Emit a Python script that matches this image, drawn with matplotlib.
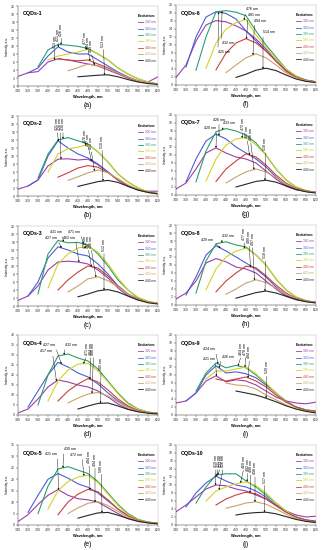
import numpy as np
import matplotlib
matplotlib.use("Agg")
import matplotlib.pyplot as plt

plt.rcParams['font.family'] = ['Liberation Sans', 'DejaVu Sans']

# ---------------- data ----------------
excitation = ["320 nm", "340 nm", "360 nm", "380 nm", "400 nm", "420 nm", "440 nm"]
start_wl = [340, 360, 380, 400, 420, 440, 460]      # first emission wavelength of each curve
step_wl = 20
colors = ["#9B3FA8", "#4C5FD5", "#2E9E6B", "#D2D22A", "#C8413A", "#C9A36A", "#262626"]

titles = ["CQDs-1", "CQDs-2", "CQDs-3", "CQDs-4", "CQDs-5",
          "CQDs-6", "CQDs-7", "CQDs-8", "CQDs-9", "CQDs-10"]
letters = ["(a)", "(b)", "(c)", "(d)", "(e)", "(f)", "(g)", "(h)", "(i)", "(j)"]
y_max = [20, 20, 20, 40, 35, 20, 20, 20, 20, 20]
y_step = [2, 2, 2, 5, 5, 2, 2, 2, 2, 2]

cqd1 = [[2.4, 3.3, 3.6, 6.0, 6.8, 6.5, 6.0, 5.5, 5.0, 4.0, 3.0, 2.0, 1.2, 1.0, 2.3],
        [3.3, 4.5, 7.5, 9.8, 8.5, 8.0, 8.0, 6.5, 5.0, 3.5, 2.3, 1.3, 0.8, 0.5],
        [4.8, 9.0, 10.4, 10.2, 9.9, 9.4, 8.0, 6.5, 4.5, 3.0, 1.8, 1.0, 0.5],
        [6.5, 7.5, 8.0, 8.5, 9.2, 8.0, 6.5, 4.5, 3.0, 1.8, 1.0, 0.5],
        [6.8, 6.5, 6.3, 6.5, 5.5, 4.5, 3.2, 2.0, 1.2, 0.8, 0.5],
        [3.8, 4.6, 5.5, 5.1, 4.2, 3.2, 2.2, 1.3, 0.8, 0.5],
        [2.3, 2.5, 2.7, 2.8, 2.3, 1.6, 1.0, 0.6, 0.4]]
cqd2 = [[1.7, 2.5, 4.0, 7.5, 9.2, 9.3, 9.0, 9.2, 7.8, 6.0, 4.0, 2.5, 1.6, 1.2, 1.2],
        [2.5, 4.0, 10.0, 13.8, 12.0, 10.5, 9.5, 8.0, 6.0, 4.0, 2.5, 1.5, 1.0, 0.6],
        [4.5, 10.5, 14.0, 14.6, 13.8, 13.0, 11.0, 8.5, 5.5, 3.5, 2.0, 1.0, 0.6],
        [6.0, 10.5, 11.8, 12.2, 12.9, 11.0, 8.5, 5.5, 3.5, 2.0, 1.0, 0.6],
        [4.7, 5.8, 7.0, 7.6, 7.2, 5.8, 4.0, 2.5, 1.5, 0.9, 0.6],
        [3.9, 4.8, 5.8, 6.5, 5.8, 4.3, 2.8, 1.6, 0.9, 0.6],
        [2.4, 3.0, 3.6, 3.9, 3.4, 2.4, 1.5, 0.9, 0.5]]
cqd3 = [[1.4, 2.5, 5.0, 9.0, 11.0, 11.2, 11.0, 10.5, 9.0, 7.0, 4.5, 2.5, 1.5, 1.0, 0.7],
        [2.5, 6.0, 12.0, 14.8, 14.0, 13.0, 12.5, 10.5, 8.0, 5.0, 3.0, 1.7, 1.0, 0.6],
        [3.0, 13.0, 16.4, 15.8, 15.9, 15.2, 13.0, 10.0, 6.5, 4.0, 2.0, 1.1, 0.7],
        [4.5, 10.5, 13.0, 14.5, 15.0, 13.5, 10.5, 7.0, 4.0, 2.2, 1.2, 0.7],
        [4.0, 6.5, 8.5, 10.0, 9.5, 7.5, 5.0, 3.0, 1.7, 1.0, 0.6],
        [3.5, 5.0, 6.8, 7.3, 6.3, 4.8, 3.0, 1.7, 1.0, 0.6],
        [2.3, 3.0, 3.8, 4.1, 3.5, 2.5, 1.5, 0.8, 0.5]]
cqd4 = [[1.0, 3.0, 8.0, 14.0, 17.5, 16.5, 15.0, 14.0, 12.0, 9.0, 5.5, 3.0, 1.7, 1.1, 0.8],
        [4.0, 12.0, 20.0, 26.3, 24.0, 21.0, 19.0, 15.5, 11.0, 7.0, 4.0, 2.0, 1.2, 0.8],
        [5.0, 20.0, 29.5, 30.5, 28.5, 27.0, 23.0, 17.0, 11.0, 6.0, 3.0, 1.5, 0.9],
        [7.0, 17.0, 22.5, 25.5, 25.8, 22.0, 16.5, 10.5, 5.5, 2.8, 1.4, 0.8],
        [7.0, 12.0, 15.5, 18.2, 16.5, 12.5, 8.0, 4.5, 2.3, 1.2, 0.7],
        [6.0, 8.5, 10.5, 11.3, 9.5, 6.5, 3.8, 2.0, 1.1, 0.6],
        [3.0, 4.5, 5.8, 6.0, 4.5, 2.8, 1.6, 0.9, 0.5]]
cqd5 = [[1.5, 4.5, 9.0, 13.0, 15.5, 13.0, 11.5, 11.0, 10.0, 7.5, 5.0, 2.8, 1.6, 1.0, 0.7],
        [5.5, 13.0, 20.0, 22.5, 20.5, 18.0, 16.5, 14.0, 10.5, 7.0, 4.0, 2.0, 1.2, 0.8],
        [5.0, 17.0, 24.5, 25.5, 24.0, 22.5, 19.0, 14.0, 9.0, 5.0, 2.5, 1.3, 0.8],
        [7.0, 15.0, 19.0, 21.0, 21.8, 18.5, 13.5, 8.5, 4.5, 2.3, 1.2, 0.7],
        [4.5, 10.0, 13.5, 15.6, 14.5, 11.0, 7.0, 4.0, 2.0, 1.1, 0.6],
        [5.0, 7.5, 9.5, 10.2, 8.5, 6.0, 3.5, 1.8, 1.0, 0.6],
        [3.0, 4.2, 5.3, 5.5, 4.3, 2.8, 1.6, 0.9, 0.5]]
cqd6 = [[1.9, 5.0, 11.0, 15.0, 16.1, 15.8, 14.8, 13.5, 11.5, 9.0, 6.0, 3.5, 2.0, 1.0, 0.7],
        [4.5, 12.0, 17.0, 18.3, 17.9, 16.5, 13.5, 11.0, 8.5, 6.0, 3.8, 2.2, 1.2, 0.8],
        [3.7, 12.0, 18.3, 18.6, 18.2, 17.3, 13.5, 10.0, 7.0, 4.0, 2.2, 1.2, 0.8],
        [4.2, 10.5, 14.0, 15.6, 16.4, 12.5, 9.5, 6.5, 4.0, 2.2, 1.2, 0.8],
        [3.8, 8.0, 10.5, 11.6, 10.5, 8.5, 6.0, 3.5, 2.0, 1.2, 0.8],
        [3.1, 5.0, 6.8, 7.8, 6.8, 5.0, 3.0, 1.8, 1.1, 0.7],
        [1.9, 2.7, 3.7, 4.2, 3.6, 2.5, 1.5, 0.9, 0.6]]
cqd7 = [[1.5, 3.0, 6.5, 10.5, 11.8, 10.5, 9.5, 9.0, 8.0, 6.0, 4.0, 2.2, 1.3, 0.9, 0.7],
        [3.3, 9.0, 13.5, 15.2, 14.0, 12.0, 10.5, 9.0, 7.0, 4.5, 2.5, 1.5, 0.9, 0.6],
        [3.3, 11.0, 15.8, 16.6, 16.0, 15.0, 13.0, 10.0, 6.5, 3.8, 2.0, 1.1, 0.7],
        [3.5, 9.0, 12.5, 14.0, 14.4, 12.5, 10.0, 6.5, 3.8, 2.0, 1.0, 0.6],
        [3.4, 6.5, 8.5, 10.3, 9.5, 7.5, 5.0, 3.0, 1.7, 1.0, 0.6],
        [3.0, 4.5, 5.8, 6.5, 5.8, 4.3, 2.7, 1.6, 0.9, 0.6],
        [2.0, 2.7, 3.4, 3.7, 3.2, 2.3, 1.4, 0.8, 0.5]]
cqd8 = [[1.5, 3.0, 6.0, 10.5, 11.6, 10.8, 9.5, 9.0, 8.0, 6.0, 4.0, 2.2, 1.3, 0.9, 0.7],
        [2.5, 7.0, 12.5, 14.8, 13.5, 12.0, 10.5, 9.0, 7.0, 4.5, 2.5, 1.4, 0.9, 0.6],
        [3.0, 11.0, 15.3, 15.8, 15.0, 14.5, 12.5, 10.0, 6.5, 3.8, 2.0, 1.1, 0.7],
        [3.8, 9.0, 12.0, 13.5, 14.2, 12.5, 10.0, 6.5, 3.8, 2.0, 1.0, 0.6],
        [3.3, 6.0, 8.0, 9.7, 9.3, 7.3, 5.0, 3.0, 1.7, 1.0, 0.6],
        [2.7, 4.0, 5.5, 6.3, 5.6, 4.2, 2.7, 1.6, 0.9, 0.6],
        [1.7, 2.4, 3.1, 3.5, 3.0, 2.2, 1.4, 0.8, 0.5]]
cqd9 = [[3.0, 3.5, 5.5, 8.5, 9.8, 8.3, 8.8, 8.5, 7.5, 6.0, 4.5, 3.5, 3.0, 2.8, 3.2],
        [3.5, 5.5, 10.0, 12.3, 10.5, 10.8, 10.3, 9.3, 7.5, 5.5, 3.5, 2.0, 1.3, 1.0],
        [6.0, 10.5, 13.0, 11.8, 12.4, 11.8, 10.0, 7.8, 5.5, 3.3, 2.0, 1.2, 0.8],
        [9.0, 11.0, 11.0, 11.5, 12.0, 10.3, 8.0, 5.5, 3.3, 2.0, 1.2, 0.8],
        [9.0, 8.5, 9.0, 9.5, 8.5, 7.0, 5.0, 3.2, 2.0, 1.2, 0.8],
        [8.0, 7.5, 7.3, 6.5, 5.0, 3.8, 2.5, 1.5, 1.0, 0.6],
        [6.0, 5.5, 5.0, 4.2, 3.3, 2.3, 1.5, 0.9, 0.5]]
cqd10 = [[3.3, 5.0, 7.0, 9.0, 10.0, 9.8, 9.0, 8.5, 7.5, 6.5, 5.0, 3.5, 2.5, 2.0, 2.2],
         [4.5, 8.0, 10.5, 12.2, 11.0, 10.0, 9.5, 8.5, 7.0, 5.0, 3.3, 2.0, 1.3, 1.0],
         [5.5, 9.5, 12.5, 12.8, 12.8, 11.0, 9.5, 7.5, 5.5, 3.5, 2.0, 1.2, 0.8],
         [6.0, 8.5, 9.5, 10.3, 10.8, 9.8, 8.0, 5.5, 3.5, 2.0, 1.1, 0.7],
         [5.0, 6.5, 7.5, 8.2, 7.8, 6.5, 4.8, 3.2, 2.0, 1.2, 0.8],
         [4.2, 4.8, 5.5, 5.8, 5.2, 4.0, 2.7, 1.6, 1.0, 0.6],
         [2.5, 2.9, 3.1, 3.2, 2.8, 2.1, 1.4, 0.9, 0.6]]
panels = [cqd1, cqd2, cqd3, cqd4, cqd5, cqd6, cqd7, cqd8, cqd9, cqd10]

# peak labels: (peak wavelength, curve index)
peaks1 = [(413, 0), (421, 1), (426, 2), (477, 3), (484, 4), (493, 5), (513, 6)]
peaks2 = [(421, 1), (426, 0), (430, 2), (476, 3), (487, 0), (493, 5), (510, 6)]
peaks3 = [(427, 1), (431, 2), (462, 0), (471, 2), (476, 3), (487, 4), (496, 5), (512, 6)]
peaks4 = [(417, 0), (427, 1), (432, 2), (471, 3), (484, 4), (488, 5), (505, 6)]
peaks5 = [(421, 0), (430, 2), (472, 3), (484, 4), (494, 5), (508, 6)]
peaks6 = [(425, 1), (432, 2), (476, 3), (481, 4), (494, 5), (514, 6)]
peaks7 = [(420, 0), (426, 1), (433, 2), (472, 3), (487, 4), (496, 5), (518, 6)]
peaks8 = [(429, 1), (432, 2), (477, 3), (489, 4), (497, 5), (518, 6)]
peaks9 = [(424, 2), (426, 1), (421, 0), (464, 2), (478, 3), (484, 4), (520, 6)]
peaks10 = [(419, 0), (421, 1), (423, 2), (426, 3), (469, 3), (482, 2), (488, 4), (498, 5), (517, 6)]
peaks = [peaks1, peaks2, peaks3, peaks4, peaks5, peaks6, peaks7, peaks8, peaks9, peaks10]

# ---------------- layout (label placement, not data) ----------------
lab1 = [(413, 9.6, 'v'), (420, 11.3, 'v'), (427, 12.6, 'v'), (474, 10.6, 'v'), (480, 9.3, 'v'), (486, 8.5, 'v'), (511, 9.8, 'v')]
lab2 = [(418, 16.5, 'v'), (424, 16.5, 'v'), (430, 16.5, 'v'), (474, 13.4, 'v'), (480, 12.6, 'v'), (486, 11.7, 'v'), (508, 12.1, 'v')]
lab3 = [(419, 16.6, 'l'), (428, 18.0, 'l'), (455, 16.6, 'l'), (465, 18.0, 'l'), (474, 14.6, 'v'), (480, 14.6, 'v'), (486, 14.6, 'v'), (512, 13.8, 'v')]
lab4 = [(409, 30.8, 'l'), (415, 34.0, 'l'), (434, 34.0, 'r'), (478, 30.0, 'v'), (485, 30.0, 'v'), (491, 30.0, 'v'), (506, 22.5, 'v')]
lab5 = [(419, 30.2, 'l'), (431, 32.3, 'r'), (468, 29.8, 'l'), (482, 27.0, 'v'), (494, 26.0, 'v'), (507, 23.3, 'v')]
lab6 = [(424, 8.8, 'rb'), (431, 10.9, 'rb'), (480, 18.4, 'r'), (484, 17.0, 'r'), (497, 15.6, 'r'), (514, 12.7, 'r')]
lab7 = [(421, 16.2, 'l'), (426, 18.3, 'c'), (434, 17.4, 'r'), (474, 16.2, 'v'), (482, 14.2, 'v'), (489, 13.7, 'v'), (519, 11.2, 'v')]
lab8 = [(415, 15.8, 'l'), (431, 16.8, 'r'), (476, 16.2, 'v'), (486, 15.4, 'v'), (493, 15.0, 'v'), (519, 11.7, 'v')]
lab9 = [(419, 15.9, 'l'), (431, 14.1, 'r'), (419, 13.5, 'l'), (471, 15.0, 'v'), (479, 15.0, 'v'), (487, 14.2, 'v'), (522, 10.4, 'v')]
lab10 = [(420, 14.5, 'v'), (425, 14.5, 'v'), (430, 14.5, 'v'), (435, 14.5, 'v'), (476, 14.3, 'v'), (484, 13.6, 'v'), (490, 13.2, 'v'), (498, 12.7, 'v'), (517, 10.6, 'v')]
labels_pos = [lab1, lab2, lab3, lab4, lab5, lab6, lab7, lab8, lab9, lab10]

styles = {
    'v': dict(rotation=90, ha='center', va='bottom', relpos=(0.5, 0.0)),
    'r': dict(rotation=0, ha='left', va='bottom', relpos=(0.0, 0.0)),
    'l': dict(rotation=0, ha='right', va='bottom', relpos=(1.0, 0.0)),
    'c': dict(rotation=0, ha='center', va='bottom', relpos=(0.5, 0.0)),
    'rb': dict(rotation=0, ha='left', va='top', relpos=(0.0, 1.0)),
}

W, H = 325, 550
fig = plt.figure(figsize=(W / 100, H / 100), dpi=100)
fig.patch.set_facecolor('white')

col_left = [18, 176]
row_tops = [[6, 116, 226, 335, 445], [5, 115, 225, 335, 445]]
ax_w, ax_h = 140, 80

for k in range(10):
    col, row = k // 5, k % 5
    top = row_tops[col][row]
    ax = fig.add_axes([col_left[col] / W, 1 - (top + ax_h) / H, ax_w / W, ax_h / H])
    data = panels[k]
    handles = []
    for i, ys in enumerate(data):
        xs = np.arange(start_wl[i], start_wl[i] + step_wl * len(ys), step_wl)
        h, = ax.plot(xs, ys, color=colors[i], lw=0.8, label=excitation[i])
        handles.append(h)

    for (wl, ci), (tx, ty, st) in zip(peaks[k], labels_pos[k]):
        ys = data[ci]
        xs = np.arange(start_wl[ci], start_wl[ci] + step_wl * len(ys), step_wl)
        yv = float(np.interp(wl, xs, ys))
        s = styles[st]
        ax.annotate(f"{wl} nm", xy=(wl, yv), xytext=(tx, ty),
                    rotation=s['rotation'], ha=s['ha'], va=s['va'],
                    fontsize=2.6, color='black',
                    arrowprops=dict(arrowstyle='-|>', lw=0.3, color='black',
                                    mutation_scale=2.2, shrinkA=0, shrinkB=0,
                                    relpos=s['relpos']))

    ax.set_xlim(340, 620)
    ax.set_ylim(0, y_max[k])
    ax.set_xticks(np.arange(340, 621, 20))
    ax.set_yticks(np.arange(0, y_max[k] + 0.1, y_step[k]))
    ax.tick_params(axis='both', labelsize=2.5, length=1.2, width=0.3, pad=0.8,
                   direction='out', colors='#333333')
    for side, sp in ax.spines.items():
        sp.set_linewidth(0.35)
        sp.set_color('#333333' if side in ('left', 'bottom') else '#BBBBBB')

    ax.set_xlabel("Wavelength, nm", fontsize=2.8, fontweight='bold', labelpad=1.5)
    ax.set_ylabel("Intensity, a.u.", fontsize=2.3, labelpad=1.5)
    ax.text(0.035, 0.9, titles[k], transform=ax.transAxes, fontsize=3.9,
            fontweight='bold', ha='left', va='center')
    ax.text(0.5, -0.24, letters[k], transform=ax.transAxes, fontsize=5,
            ha='center', va='center')

    leg = ax.legend(handles=handles, loc='upper right', bbox_to_anchor=(1.0, 0.93),
                    frameon=False, fontsize=2.3, title="Excitation:",
                    title_fontsize=2.5, handlelength=1.6, handletextpad=0.5,
                    labelspacing=0.75, borderaxespad=0.3)
    leg.get_title().set_fontweight('bold')
    for t, c in zip(leg.get_texts(), colors):
        t.set_color(c)
    for line in leg.get_lines():
        line.set_linewidth(0.6)

fig.savefig("out.png", dpi=100, facecolor='white')
